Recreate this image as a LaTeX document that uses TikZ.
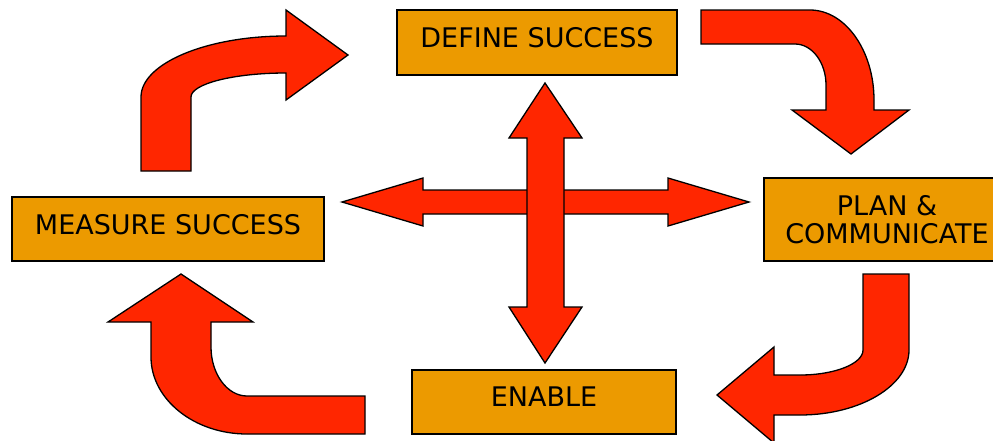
\documentclass[tikz,border=0pt]{standalone}
\usepackage{fontspec}
\setmainfont{DejaVu Sans}
\definecolor{boxorange}{RGB}{236,154,0}
\definecolor{arrowred}{RGB}{255,38,0}
\tikzset{
  stagebox/.style={draw=black, line width=1.8pt, fill=boxorange, inner sep=0pt,
    font=\fontsize{27}{28}\selectfont, text depth=10pt},
  planbox/.style={draw=black, line width=1.8pt, fill=boxorange, inner sep=0pt,
    font=\fontsize{27}{28}\selectfont, align=center},
  blockarrow/.style={draw=black, line width=1.3pt, fill=arrowred, line join=miter}
}
\begin{document}
\begin{tikzpicture}[x=1pt,y=-1pt]
\useasboundingbox (0,0) rectangle (993,440);
\clip (0,0) rectangle (993,440);
% curved block arrows
\draw[blockarrow] (141,171) -- (141,97) .. controls (141,63.5) and (206.25,36) .. (286,36)
  -- (286,10) -- (348,55) -- (286,100) -- (286,73)
  .. controls (233.75,73) and (191,83.8) .. (191,97) -- (191,171) -- cycle;
\draw[blockarrow] (701,10) -- (810,10) .. controls (845.2,10) and (874,50.5) .. (874,100)
  -- (874,110) -- (909,110) -- (851,154) -- (792,110) -- (826,110) -- (826,85)
  .. controls (826,62.45) and (812.05,44) .. (795,44) -- (701,44) -- cycle;
\draw[blockarrow] (863,274) -- (909,274) -- (909,350) .. controls (909,385.75) and (859.95,415) .. (800,415)
  -- (774,415) -- (774,443) -- (717,395) -- (774,347) -- (774,375) -- (800,375)
  .. controls (834.65,375) and (863,363.75) .. (863,350) -- cycle;
\draw[blockarrow] (365,396) -- (365,434) -- (247,434) .. controls (194.2,434) and (151,399.35) .. (151,357)
  -- (151,322) -- (108,322) -- (181,274) -- (253,322) -- (211,322) -- (211,347)
  .. controls (211,373.95) and (227.2,396) .. (247,396) -- cycle;
% central cross
\draw[blockarrow] (342,202) -- (423,178) -- (423,190) -- (668,190) -- (668,178) -- (749,202)
  -- (668,226) -- (668,214) -- (423,214) -- (423,226) -- cycle;
\draw[blockarrow] (545,83) -- (582,138) -- (564,138) -- (564,307) -- (582,307) -- (545,363)
  -- (509,307) -- (527,307) -- (527,138) -- (509,138) -- cycle;
% stage boxes
\node[stagebox, minimum width=280pt, minimum height=65pt] (define) at (537,42.5) {DEFINE SUCCESS};
\node[stagebox, minimum width=312pt, minimum height=64pt] (measure) at (168,229) {MEASURE SUCCESS};
\node[stagebox, minimum width=264pt, minimum height=64pt] (enable) at (544,402) {ENABLE};
\node[planbox, minimum width=246pt, minimum height=83pt] (plan) at (887,219.5) {PLAN \&\\COMMUNICATE};
\end{tikzpicture}
\end{document}
